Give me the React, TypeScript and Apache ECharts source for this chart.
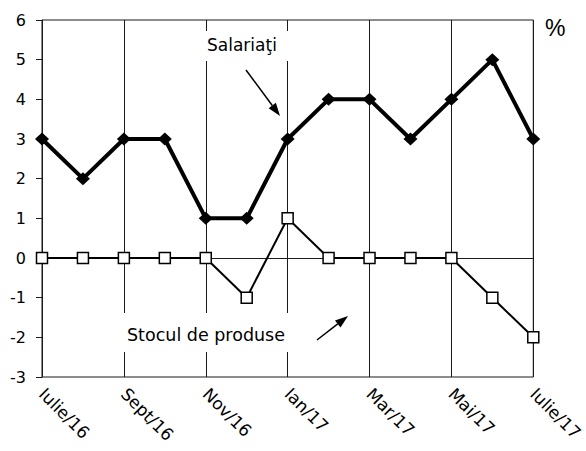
import React, { useEffect, useRef } from "react";
import * as echarts from "echarts";

const categories = [
  "Iulie/16", "Aug/16", "Sept/16", "Oct/16", "Nov/16", "Dec/16", "Ian/17",
  "Feb/17", "Mar/17", "Apr/17", "Mai/17", "Iun/17", "Iulie/17",
];
const salariati = [3, 2, 3, 3, 1, 1, 3, 4, 4, 3, 4, 5, 3];
const stocul = [0, 0, 0, 0, 0, -1, 1, 0, 0, 0, 0, -1, -2];
const yTicks = { min: -3, max: 6, interval: 1 };

const FONT = "'DejaVu Sans', sans-serif";
const FONT2 = "'Liberation Sans', Arial, sans-serif";
const INK = "#1a1a1a";

function arrow(x1: number, y1: number, x2: number, y2: number) {
  const dx = x2 - x1, dy = y2 - y1;
  const len = Math.sqrt(dx * dx + dy * dy);
  const ux = dx / len, uy = dy / len;
  const hl = 13, hw = 4.5;
  const bx = x2 - ux * hl, by = y2 - uy * hl;
  const px = -uy, py = ux;
  return [
    { type: "line", z: 100, shape: { x1, y1, x2: bx, y2: by }, style: { stroke: "#000", lineWidth: 1.5 } },
    {
      type: "polygon", z: 100,
      shape: { points: [[x2, y2], [bx + px * hw, by + py * hw], [bx - px * hw, by - py * hw]] },
      style: { fill: "#000" },
    },
  ];
}

export default function App() {
  const ref = useRef<HTMLDivElement>(null);
  useEffect(() => {
    const chart = echarts.init(ref.current!, undefined, { renderer: "svg" });
    chart.setOption({
      animation: false,
      backgroundColor: "#fff",
      grid: { left: 42, right: 51, top: 20, bottom: 74, show: true, borderColor: INK, borderWidth: 1, backgroundColor: "transparent" },
      xAxis: {
        type: "category",
        data: categories,
        boundaryGap: false,
        axisLine: { lineStyle: { color: INK, width: 1 } },
        axisTick: { show: false },
        axisLabel: { interval: 1, rotate: -45, margin: 14, color: "#000", fontSize: 17, fontFamily: FONT },
        splitLine: { show: true, interval: 1, lineStyle: { color: INK, width: 1 } },
      },
      yAxis: {
        type: "value",
        min: yTicks.min, max: yTicks.max, interval: yTicks.interval,
        axisLine: { show: true, lineStyle: { color: INK, width: 1 } },
        axisTick: { show: true, length: 6, lineStyle: { color: INK } },
        axisLabel: { margin: 16, color: "#000", fontSize: 16, fontFamily: FONT },
        splitLine: { show: false },
      },
      series: [
        {
          name: "Stocul de produse",
          type: "line",
          data: stocul,
          symbol: "rect",
          symbolSize: 11,
          lineStyle: { color: "#000", width: 2 },
          itemStyle: { color: "#fff", borderColor: "#000", borderWidth: 1.5 },
          z: 3,
        },
        {
          name: "Salariaţi",
          type: "line",
          data: salariati,
          symbol: "diamond",
          symbolSize: [14, 13],
          lineStyle: { color: "#000", width: 4 },
          itemStyle: { color: "#000", borderColor: "#000", borderWidth: 0 },
          z: 4,
        },
      ],
      graphic: [
        { type: "rect", z: 90, shape: { x: 204, y: 31, width: 87, height: 30 }, style: { fill: "#fff" } },
        { type: "text", z: 100, x: 207, y: 45, style: { text: "Salariaţi", fontSize: 17, fontFamily: FONT, fill: "#000", verticalAlign: "middle" } },
        { type: "rect", z: 90, shape: { x: 122, y: 313, width: 169, height: 39 }, style: { fill: "#fff" } },
        { type: "text", z: 100, x: 127, y: 335, style: { text: "Stocul de produse", fontSize: 17.5, fontFamily: FONT, fill: "#000", verticalAlign: "middle" } },
        { type: "text", z: 100, x: 545, y: 28, style: { text: "%", fontSize: 23, fontFamily: FONT2, fill: "#000", verticalAlign: "middle" } },
        ...arrow(246, 70, 280, 116),
        ...arrow(317, 340, 348, 316),
      ],
    });
    return () => chart.dispose();
  }, []);
  return <div ref={ref} style={{ width: 586, height: 451, position: "absolute", left: 0, top: 0 }} />;
}
